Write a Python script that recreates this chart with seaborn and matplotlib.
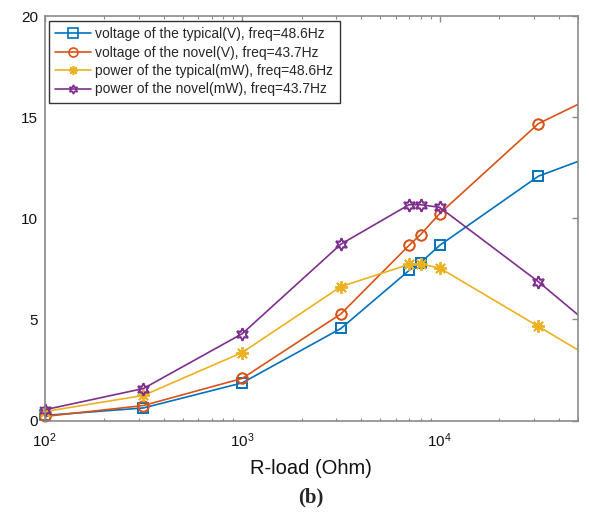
import numpy as np
import pandas as pd
import matplotlib
matplotlib.use("Agg")
import matplotlib.pyplot as plt
import seaborn as sns

# ---- data ----
r_load = [100, 316, 1000, 3162, 7000, 8000, 10000, 31623, 100000]
v_typical = [0.25, 0.62, 1.86, 4.55, 7.42, 7.80, 8.66, 12.08, 13.90]
v_novel = [0.20, 0.74, 2.08, 5.27, 8.66, 9.19, 10.23, 14.68, 17.05]
p_typical = [0.44, 1.24, 3.36, 6.62, 7.72, 7.74, 7.54, 4.65, 1.75]
p_novel = [0.53, 1.58, 4.29, 8.72, 10.67, 10.67, 10.54, 6.86, 2.78]
labels = [
    "voltage of the typical(V), freq=48.6Hz",
    "voltage of the novel(V), freq=43.7Hz",
    "power of the typical(mW), freq=48.6Hz",
    "power of the novel(mW), freq=43.7Hz",
]
colors = ["#0072BD", "#D95319", "#EDB120", "#7E2F8E"]
markers = ["s", "o", (8, 2, 0), (6, 1, 0)]
msizes = [6.5, 7.5, 9, 9]
yticks = [0, 5, 10, 15, 20]
xlim = (100, 50000)

series = [v_typical, v_novel, p_typical, p_novel]

sns.set_theme(style="white")
plt.rcParams["font.family"] = ["Liberation Sans", "DejaVu Sans"]
plt.rcParams["mathtext.default"] = "regular"

fig = plt.figure(figsize=(5.89, 5.17), dpi=100)
W, H = 589, 517
left, right, top, bottom = 44.7, 577.7, 16, 420.5
ax = fig.add_axes([left / W, 1 - bottom / H, (right - left) / W, (bottom - top) / H])

for vals, lab, c, m, ms in zip(series, labels, colors, markers, msizes):
    df = pd.DataFrame({"R": r_load, "val": vals})
    sns.lineplot(data=df, x="R", y="val", ax=ax, color=c, marker=m,
                 markersize=ms, markerfacecolor="none", markeredgecolor=c,
                 markeredgewidth=1.2, linewidth=1.2, label=lab)
    # markers inside the x-range drawn unclipped (MATLAB style)
    dfin = df[(df["R"] >= xlim[0]) & (df["R"] <= xlim[1])]
    sns.lineplot(data=dfin, x="R", y="val", ax=ax, color=c, marker=m,
                 markersize=ms, markerfacecolor="none", markeredgecolor=c,
                 markeredgewidth=1.2, linestyle="", label="_nolegend_",
                 clip_on=False)

ax.set_xscale("log")
ax.set_xlim(*xlim)
ax.set_ylim(0, 20)
ax.set_yticks(yticks)
ax.set_xticks([100, 1000, 10000])
ax.set_xticklabels([r"$10^2$", r"$10^3$", r"$10^4$"])

axis_grey = "#8a8a8a"
for s in ax.spines.values():
    s.set_visible(True)
    s.set_color(axis_grey)
    s.set_linewidth(1.2)
ax.tick_params(axis="both", which="major", direction="in", length=4,
               width=1.0, color=axis_grey, labelsize=11, labelcolor="#111111",
               top=True, right=True)
ax.tick_params(axis="x", which="major", pad=8)
ax.tick_params(axis="y", which="major", pad=5)
ax.tick_params(axis="x", which="minor", direction="in", length=2.5,
               width=0.8, color=axis_grey, top=True, bottom=True)

ax.set_xlabel("R-load (Ohm)", fontsize=14.5, color="#111111", labelpad=6)
ax.set_ylabel("")

handles, labs = ax.get_legend_handles_labels()
leg = ax.legend(handles[:4], labs[:4], loc="upper left",
                bbox_to_anchor=(0.008, 0.988),
                borderaxespad=0, fontsize=10.0, frameon=True, fancybox=False,
                framealpha=1, edgecolor="#333333", handlelength=2.6,
                handletextpad=0.3, labelspacing=0.32, borderpad=0.45)
leg.get_frame().set_linewidth(1.0)
for h in leg.legend_handles:
    h.set_markersize(6.5)

fig.text(311 / W, 1 - 497 / H, "(b)", ha="center", va="center",
         fontsize=15, fontweight="bold", family=["Liberation Serif", "DejaVu Serif"])

fig.savefig("out.png", dpi=100)
